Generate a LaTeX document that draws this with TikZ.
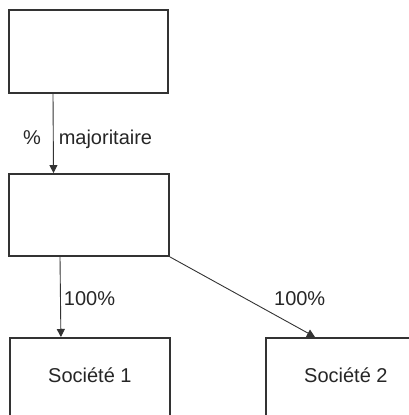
\documentclass[tikz,border=0pt]{standalone}
\usepackage{fontspec}
\setmainfont{Liberation Sans}
\usetikzlibrary{arrows.meta}

\begin{document}
\begin{tikzpicture}[x=1pt,y=-1pt]
        \tikzset{every node/.append style={inner sep=0pt}}
        \tikzset{boite/.style={draw=black!80, line width=1.8pt, rectangle, minimum width=160pt},
                 fleche/.style={draw=black!80, line width=0.9pt, -{Triangle[length=8pt,width=8pt]}},
                 etiq/.style={font=\fontsize{20}{24}\selectfont, text=black!85}}
        \useasboundingbox (0,0) rectangle (409,415);
        \clip (0,0) rectangle (409,415);
        % boites
        \node[boite, minimum width=159pt, minimum height=83pt] (mere) at (88.5,51.5) {};
        \node[boite, minimum height=82pt] (holding) at (89,215) {};
        \node[boite, etiq, anchor=north west, text height=45pt, text depth=40pt] (soc1) at (9,337) {Société 1};
        \node[boite, etiq, anchor=north west, text height=45pt, text depth=40pt] (soc2) at (265,337) {Société 2};
        % fleches
        \draw[fleche] ([xshift=-35.5pt]mere.south) --
            node[etiq, pos=0.64, anchor=base east, xshift=-12pt] {\%}
            node[etiq, pos=0.64, anchor=base west, xshift=5pt] {majoritaire}
            ([xshift=-35.5pt]holding.north);
        \draw[fleche] ([xshift=-29pt]holding.south) --
            node[etiq, pos=0.605, anchor=base west, xshift=3pt] {100\%}
            ([xshift=-29pt]soc1.north);
        \draw[fleche] (holding.south east) --
            node[etiq, pos=0.605, anchor=base west, xshift=16pt] {100\%}
            ([xshift=50pt]soc2.north west);
\end{tikzpicture}
\end{document}
